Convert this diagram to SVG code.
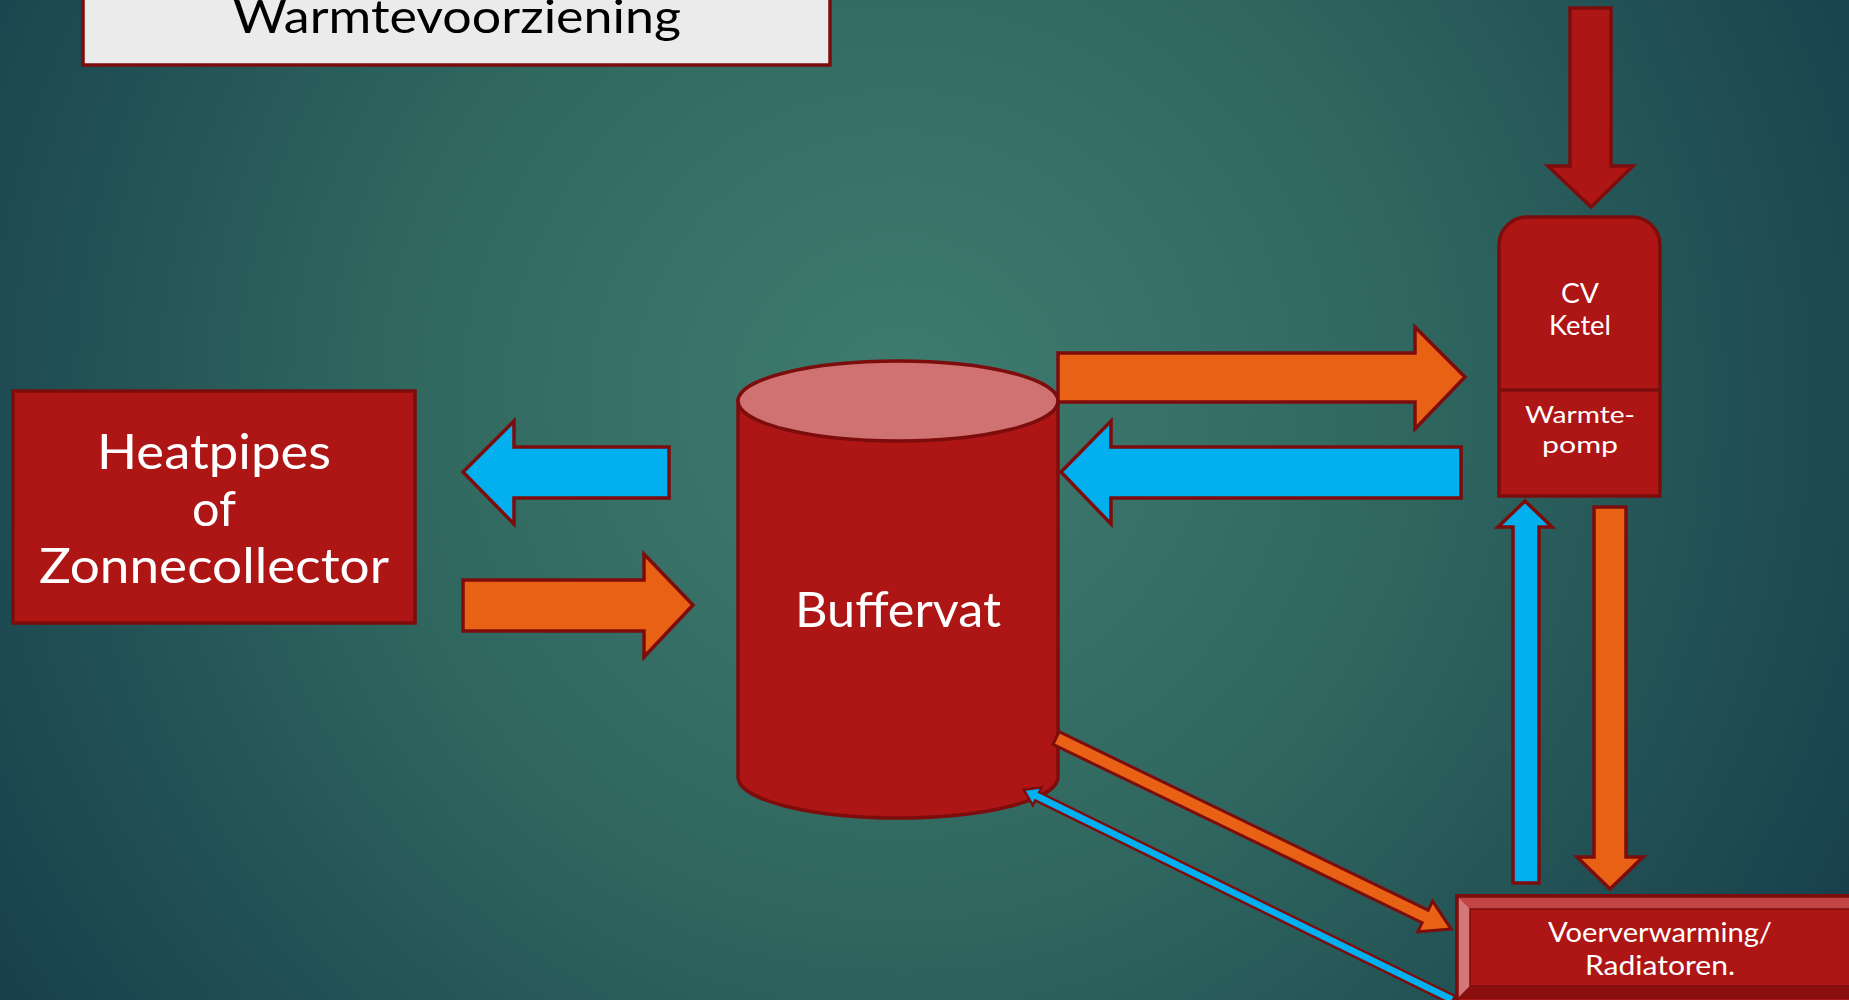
<svg xmlns="http://www.w3.org/2000/svg" width="1849" height="1000" viewBox="0 0 1849 1000">
<defs>
<radialGradient id="bg" cx="900" cy="400" r="1100" gradientUnits="userSpaceOnUse">
<stop offset="0" stop-color="#3F7B6F"/>
<stop offset="0.45" stop-color="#306860"/>
<stop offset="1" stop-color="#163E4B"/>
</radialGradient>
<style>
.red{fill:#AE1515;stroke:#7D0D0D;stroke-width:3.5}
.org{fill:#E86115;stroke:#7D0D0D;stroke-width:3.5}
.blu{fill:#02B0F0;stroke:#7D0D0D;stroke-width:3.5}
.t{font-family:Lato,"Liberation Sans",sans-serif;fill:#FFFFFF;text-anchor:middle}
</style>
</defs>
<rect x="0" y="0" width="1849" height="1000" fill="url(#bg)"/>

<g id="title">
<rect x="83" y="-10" width="747" height="75" fill="#EBEBEB" stroke="#7D0D0D" stroke-width="3.5"/>
<text class="t" x="457" y="33" font-size="46" style="fill:#000" textLength="448" lengthAdjust="spacingAndGlyphs">Warmtevoorziening</text>
</g>

<g id="heatpipes">
<rect class="red" x="13" y="391" width="402" height="232"/>
<text class="t" x="214" y="469" font-size="48" textLength="234" lengthAdjust="spacingAndGlyphs">Heatpipes</text>
<text class="t" x="214" y="526" font-size="48" textLength="44" lengthAdjust="spacingAndGlyphs">of</text>
<text class="t" x="214" y="583" font-size="48" textLength="350" lengthAdjust="spacingAndGlyphs">Zonnecollector</text>
</g>

<g id="buffervat">
<path class="red" d="M738,401 L738,777 A160,41 0 0 0 1058,777 L1058,401 Z"/>
<ellipse cx="898" cy="401" rx="160" ry="40" fill="#D07272" stroke="#7D0D0D" stroke-width="3.5"/>
<text class="t" x="898" y="627" font-size="49" textLength="206" lengthAdjust="spacingAndGlyphs">Buffervat</text>
</g>

<g id="cvketel">
<path class="red" d="M1499,496 L1499,245 A28,28 0 0 1 1527,217 L1632,217 A28,28 0 0 1 1660,245 L1660,496 Z"/>
<line x1="1499" y1="390" x2="1660" y2="390" stroke="#7D0D0D" stroke-width="3.5"/>
<text class="t" x="1580" y="303" font-size="26" textLength="38" lengthAdjust="spacingAndGlyphs">CV</text>
<text class="t" x="1580" y="335" font-size="26" textLength="62" lengthAdjust="spacingAndGlyphs">Ketel</text>
<text class="t" x="1580" y="423" font-size="24" textLength="110" lengthAdjust="spacingAndGlyphs">Warmte-</text>
<text class="t" x="1580" y="453" font-size="24" textLength="76" lengthAdjust="spacingAndGlyphs">pomp</text>
</g>

<g id="voerverwarming">
<rect x="1457" y="896" width="406" height="110" fill="#AE1515" stroke="#7D0D0D" stroke-width="3.5"/>
<polygon points="1457,896 1863,896 1851,909 1470,909" fill="#C24545"/>
<polygon points="1457,896 1470,909 1470,986 1457,999" fill="#D47777"/>
<polygon points="1457,999 1470,986 1851,986 1863,999" fill="#8A1010"/>
<rect x="1470" y="909" width="381" height="77" fill="none" stroke="#7D0D0D" stroke-width="1.5"/>
<rect x="1457" y="896" width="406" height="110" fill="none" stroke="#7D0D0D" stroke-width="3.5"/>
<text class="t" x="1660" y="942" font-size="26" textLength="224" lengthAdjust="spacingAndGlyphs">Voerverwarming/</text>
<text class="t" x="1660" y="975" font-size="26" textLength="150" lengthAdjust="spacingAndGlyphs">Radiatoren.</text>
</g>

<g id="connectors">
<polygon class="blu" points="463,472 514,421 514,447 669,447 669,498 514,498 514,524"/>
<polygon class="org" points="463,580 644,580 644,554 693,605 644,657 644,631 463,631"/>
<polygon class="org" points="1058,353 1415,353 1415,327 1465,377 1415,429 1415,402 1058,402"/>
<polygon class="blu" points="1061,472 1111,421 1111,447 1461,447 1461,498 1111,498 1111,524"/>
<polygon class="red" points="1570,8 1611,8 1611,166 1633,166 1591,207 1548,166 1570,166"/>
<polygon class="blu" points="1525,501 1552,527 1539,527 1539,883 1513,883 1513,527 1498,527"/>
<polygon class="org" points="1594,507 1626,507 1626,857 1643,857 1610,889 1577,857 1594,857"/>
<polygon class="org" transform="translate(1056,738) rotate(25.8)" points="0,-7 410,-7 410,-17 439,0 410,17 410,7 0,7" style="stroke-width:3"/>
<polygon class="blu" transform="translate(1453,1000) rotate(206.1)" points="0,-4.5 463,-4.5 463,-10 478,0 463,10 463,4.5 0,4.5" style="stroke-width:2.5"/>
</g>
</svg>
